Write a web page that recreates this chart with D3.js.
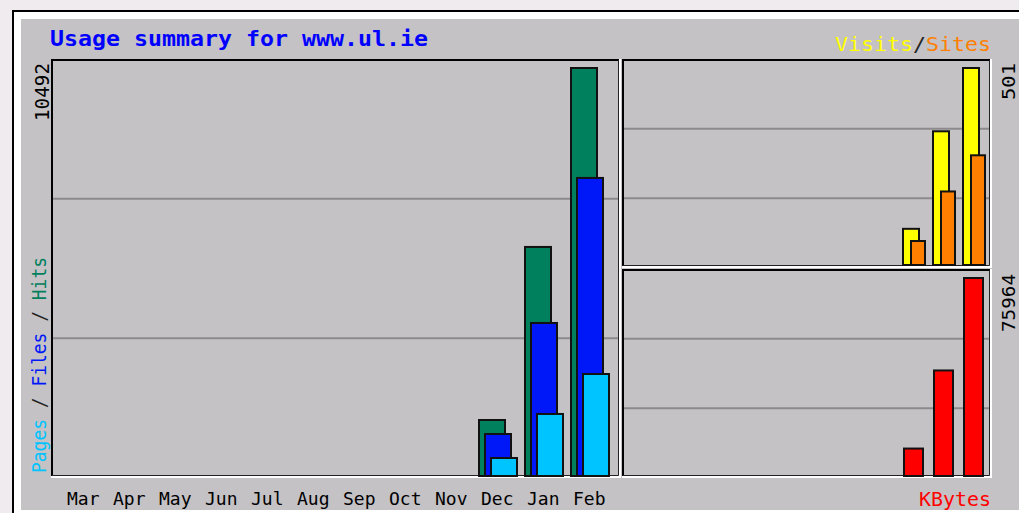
<!DOCTYPE html>
<html>
  <head>
    <meta charset="utf-8">
    <title>Usage summary for www.ul.ie</title>
    <script src="https://d3js.org/d3.v7.min.js"></script>
    <style>
      body { margin: 0; background: #efebef; }
      svg { display: block; }
      text { font-family: "DejaVu Sans Mono", monospace; }
    </style>
  </head>
  <body>
    <div id="chart"></div>

    <script>
      // Monthly figures, Mar .. Feb
      var months = ["Mar", "Apr", "May", "Jun", "Jul", "Aug", "Sep", "Oct", "Nov", "Dec", "Jan", "Feb"];
      var hits   = [0, 0, 0, 0, 0, 0, 0, 0, 0, 1440, 5890, 10492];
      var files  = [0, 0, 0, 0, 0, 0, 0, 0, 0, 1080, 3935, 7665];
      var pages  = [0, 0, 0, 0, 0, 0, 0, 0, 0, 463, 1595, 2623];
      var visits = [0, 0, 0, 0, 0, 0, 0, 0, 0, 92, 340, 501];
      var sites  = [0, 0, 0, 0, 0, 0, 0, 0, 0, 61, 187, 279];
      var kbytes = [0, 0, 0, 0, 0, 0, 0, 0, 0, 10530, 40490, 75964];

      var width = 1019, height = 513;
      var gray = "#c4c2c5", grid = "#8c8a8c";

      var svg = d3.select("#chart").append("svg")
          .attr("width", width).attr("height", height);

      // outer frame
      svg.append("rect").attr("x", 13).attr("y", 11).attr("width", 1020).attr("height", 520)
          .attr("fill", "#ffffff").attr("stroke", "#000").attr("stroke-width", 2);
      svg.append("rect").attr("x", 21).attr("y", 19).attr("width", 1000).attr("height", 491)
          .attr("fill", gray);

      // panels: [x0, y0, x1, y1]
      var mainBox = [51, 59, 621, 478];
      var visBox  = [622, 59, 992, 268];
      var kbBox   = [622, 269, 992, 478];

      function frame(b) {
        var g = svg.append("g");
        // gridlines at thirds
        [1, 2].forEach(function (k) {
          var y = b[1] + (b[3] - b[1]) * k / 3;
          g.append("line").attr("x1", b[0]).attr("x2", b[2] - 2)
              .attr("y1", y).attr("y2", y)
              .attr("stroke", grid).attr("stroke-width", 2);
        });
        g.append("path").attr("fill", "none").attr("stroke", "#000").attr("stroke-width", 2)
            .attr("d", "M" + (b[0] + 1) + "," + (b[3] - 2) + "V" + (b[1] + 1) + "H" + (b[2] - 2));
        g.append("path").attr("fill", "none").attr("stroke", "#222").attr("stroke-width", 1)
            .attr("d", "M" + (b[0] + 1) + "," + (b[3] - 2.5) + "H" + (b[2] - 2.5) + "V" + (b[1] + 1));
        g.append("path").attr("fill", "none").attr("stroke", "#fff").attr("stroke-width", 2)
            .attr("d", "M" + b[0] + "," + (b[3] - 1) + "H" + (b[2] - 1) + "V" + b[1]);
        return g;
      }

      var gMain = frame(mainBox);
      var gVis = frame(visBox);
      var gKb = frame(kbBox);

      // scales
      var xMain = d3.scaleBand().domain(months).range([64, 616]);
      var xRight = d3.scaleBand().domain(months).range([632, 992]);
      var yMain = d3.scaleLinear().domain([0, 10492]).range([476, 68]);
      var yVis = d3.scaleLinear().domain([0, 501]).range([265, 68]);
      var yKb = d3.scaleLinear().domain([0, 75964]).range([476, 278]);

      function bars(g, values, x, y, offset, w, color) {
        g.selectAll(null).data(months).enter().append("rect")
            .filter(function (d, i) { return values[i] > 0; })
            .attr("x", function (d) { return x(d) + offset; })
            .attr("y", function (d) { return y(values[months.indexOf(d)]); })
            .attr("width", w)
            .attr("height", function (d) { return y(0) - y(values[months.indexOf(d)]); })
            .attr("fill", color).attr("stroke", "#111").attr("stroke-width", 2);
      }

      bars(gMain, hits, xMain, yMain, 1, 26, "#00805c");
      bars(gMain, files, xMain, yMain, 7, 26, "#0018f8");
      bars(gMain, pages, xMain, yMain, 13, 26, "#00c4ff");
      bars(gVis, visits, xRight, yVis, 1, 16, "#ffff00");
      bars(gVis, sites, xRight, yVis, 9, 14, "#ff8000");
      bars(gKb, kbytes, xRight, yKb, 2, 19, "#ff0000");

      // month labels
      svg.append("g").selectAll("text").data(months).enter().append("text")
          .attr("x", function (d) { return xMain(d) + 3; })
          .attr("y", 505)
          .attr("font-size", 18)
          .attr("fill", "#000")
          .text(function (d) { return d; });

      // title
      svg.append("text").attr("x", 50).attr("y", 46)
          .attr("font-size", 21).attr("font-weight", "bold")
          .attr("fill", "#0000ff")
          .attr("textLength", 378).attr("lengthAdjust", "spacingAndGlyphs")
          .text("Usage summary for www.ul.ie");

      // Visits / Sites legend
      var leg = svg.append("text").attr("x", 835).attr("y", 51)
          .attr("font-size", 19)
          .attr("textLength", 156).attr("lengthAdjust", "spacingAndGlyphs");
      leg.append("tspan").attr("fill", "#ffff00").text("Visits");
      leg.append("tspan").attr("fill", "#222").text("/");
      leg.append("tspan").attr("fill", "#ff8000").text("Sites");

      svg.append("text").attr("x", 919).attr("y", 506)
          .attr("font-size", 19).attr("fill", "#ff0000")
          .attr("textLength", 72).attr("lengthAdjust", "spacingAndGlyphs")
          .text("KBytes");

      // vertical labels
      function vtext(x, y, anchor, len, size, parts) {
        var t = svg.append("text")
            .attr("transform", "translate(" + x + "," + y + ") rotate(-90)")
            .attr("text-anchor", anchor)
            .attr("font-size", size)
            .attr("textLength", len).attr("lengthAdjust", "spacingAndGlyphs");
        parts.forEach(function (p) {
          t.append("tspan").attr("fill", p[1]).text(p[0]);
        });
      }

      vtext(49, 63, "end", 58, 19, [[d3.max(hits), "#000"]]);
      vtext(1015, 63, "end", 37, 17, [[d3.max(visits), "#000"]]);
      vtext(1015, 274, "end", 58, 17, [[d3.max(kbytes), "#000"]]);
      vtext(46, 473, "start", 216, 19, [
        ["Pages", "#00c4ff"], [" / ", "#222"],
        ["Files", "#0018f8"], [" / ", "#222"],
        ["Hits", "#00805c"]
      ]);
    </script>
  </body>
</html>
